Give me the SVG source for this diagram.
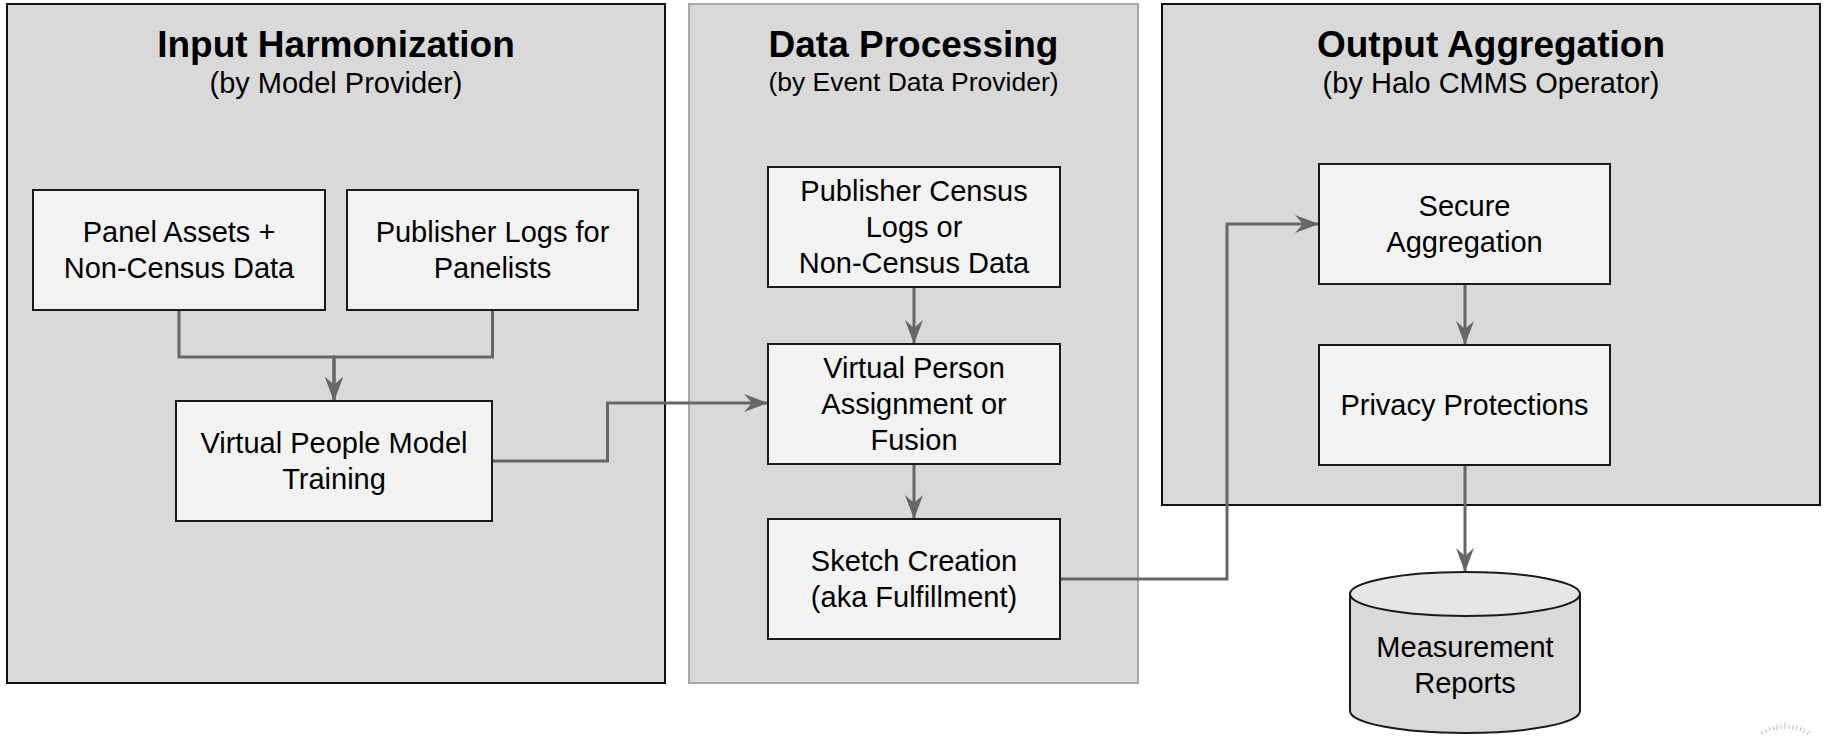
<svg xmlns="http://www.w3.org/2000/svg" width="1827" height="737" viewBox="0 0 1827 737">
<style>
.panel{fill:#d9d9d9;stroke:#111;stroke-width:2}
.panel2{fill:#d9d9d9;stroke:#a8a8a8;stroke-width:2}
.box{fill:#f2f2f2;stroke:#1a1a1a;stroke-width:2}
.t{font-family:"Liberation Sans",Arial,sans-serif;fill:#000;text-anchor:middle}
.title{font-size:37px;font-weight:bold}
.sub{font-size:29px}
.sub2{font-size:26.5px}
.lbl{font-size:29px}
.conn{fill:none;stroke:#666;stroke-width:3;marker-end:url(#arr)}
.tick{stroke:#c98a9a;stroke-width:1;opacity:0.7}
</style>
<defs>
<marker id="arr" markerUnits="userSpaceOnUse" markerWidth="24" markerHeight="18" refX="24" refY="9" orient="auto" overflow="visible">
<path d="M0,0 L24,9 L0,18 L8,9 Z" fill="#666"/>
</marker>
</defs>
<rect width="1827" height="737" fill="#fff"/>
<g id="panel-input">
<rect class="panel" x="7" y="4" width="658" height="679"/>
<text class="t title" x="336" y="57">Input Harmonization</text>
<text class="t sub" x="336" y="93">(by Model Provider)</text>
</g>
<g id="panel-processing">
<rect class="panel2" x="689" y="4" width="449" height="679"/>
<text class="t title" x="913.5" y="57">Data Processing</text>
<text class="t sub2" x="913.5" y="91">(by Event Data Provider)</text>
</g>
<g id="panel-output">
<rect class="panel" x="1162" y="4" width="658" height="501"/>
<text class="t title" x="1491" y="57">Output Aggregation</text>
<text class="t sub" x="1491" y="93">(by Halo CMMS Operator)</text>
</g>
<g id="connectors">
<path class="conn" d="M179,310 V357 H334 V401"/>
<path class="conn" d="M492.5,310 V357 H334 V401"/>
<path class="conn" d="M492,461 H607.5 V403 H768"/>
<path class="conn" d="M914,287 V344"/>
<path class="conn" d="M914,464 V519"/>
<path class="conn" d="M1060,579 H1227 V224 H1319"/>
<path class="conn" d="M1465,284 V345"/>
<path class="conn" d="M1465,465 V572"/>
</g>
<g id="panel-assets">
<rect class="box" x="33" y="190" width="292" height="120"/>
<text class="t lbl" x="179" y="242">Panel Assets +</text>
<text class="t lbl" x="179" y="278">Non-Census Data</text>
</g>
<g id="publisher-logs">
<rect class="box" x="347" y="190" width="291" height="120"/>
<text class="t lbl" x="492.5" y="242">Publisher Logs for</text>
<text class="t lbl" x="492.5" y="278">Panelists</text>
</g>
<g id="vpm-training">
<rect class="box" x="176" y="401" width="316" height="120"/>
<text class="t lbl" x="334" y="453">Virtual People Model</text>
<text class="t lbl" x="334" y="489">Training</text>
</g>
<g id="publisher-census">
<rect class="box" x="768" y="167" width="292" height="120"/>
<text class="t lbl" x="914" y="201">Publisher Census</text>
<text class="t lbl" x="914" y="237">Logs or</text>
<text class="t lbl" x="914" y="273">Non-Census Data</text>
</g>
<g id="vp-assignment">
<rect class="box" x="768" y="344" width="292" height="120"/>
<text class="t lbl" x="914" y="378">Virtual Person</text>
<text class="t lbl" x="914" y="414">Assignment or</text>
<text class="t lbl" x="914" y="450">Fusion</text>
</g>
<g id="sketch-creation">
<rect class="box" x="768" y="519" width="292" height="120"/>
<text class="t lbl" x="914" y="571">Sketch Creation</text>
<text class="t lbl" x="914" y="607">(aka Fulfillment)</text>
</g>
<g id="secure-aggregation">
<rect class="box" x="1319" y="164" width="291" height="120"/>
<text class="t lbl" x="1464.5" y="216">Secure</text>
<text class="t lbl" x="1464.5" y="252">Aggregation</text>
</g>
<g id="privacy-protections">
<rect class="box" x="1319" y="345" width="291" height="120"/>
<text class="t lbl" x="1464.5" y="415">Privacy Protections</text>
</g>
<g id="measurement-reports">
<path d="M1350,594 V711 A115,22 0 0 0 1580,711 V594" fill="#d9d9d9" stroke="#1a1a1a" stroke-width="2"/>
<ellipse cx="1465" cy="594" rx="115" ry="22" fill="#e6e6e6" stroke="#1a1a1a" stroke-width="2"/>
<text class="t lbl" x="1465" y="657">Measurement</text>
<text class="t lbl" x="1465" y="693">Reports</text>
</g>
<g id="watermark">
<line class="tick" x1="1785" y1="722" x2="1785" y2="729"/>
<line class="tick" x1="1789" y1="725" x2="1789" y2="729"/>
<line class="tick" x1="1781" y1="725" x2="1781" y2="729"/>
<line class="tick" x1="1777" y1="725" x2="1777" y2="730"/>
<line class="tick" x1="1793" y1="725" x2="1793" y2="730"/>
<line class="tick" x1="1773" y1="726" x2="1774" y2="730"/>
<line class="tick" x1="1797" y1="726" x2="1796" y2="730"/>
<line class="tick" x1="1769" y1="727" x2="1770" y2="731"/>
<line class="tick" x1="1801" y1="727" x2="1800" y2="731"/>
<line class="tick" x1="1765" y1="729" x2="1767" y2="733"/>
<line class="tick" x1="1805" y1="729" x2="1803" y2="733"/>
<line class="tick" x1="1761" y1="731" x2="1763" y2="735"/>
<line class="tick" x1="1809" y1="731" x2="1807" y2="735"/>
</g>
</svg>
